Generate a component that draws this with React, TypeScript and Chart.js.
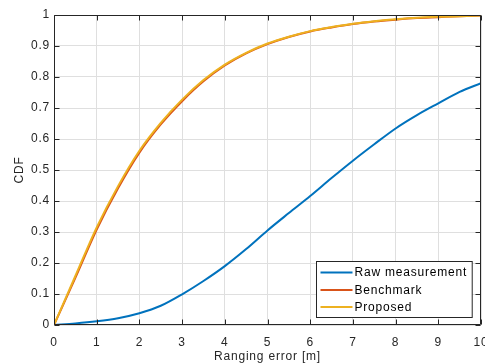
import { useEffect, useRef } from "react";
import { Chart, registerables } from "chart.js";

Chart.register(...registerables);

// ---- data ----
const rangingErrors = [0, 0.5, 1, 1.5, 2, 2.5, 3, 3.5, 4, 4.5, 5, 5.5, 6, 6.5, 7, 7.5, 8, 8.5, 9, 9.5, 10];
const rawCdf = [0, 0.005, 0.012, 0.022, 0.038, 0.062, 0.099, 0.142, 0.19, 0.245, 0.305, 0.361, 0.416, 0.474, 0.53, 0.583, 0.634, 0.677, 0.715, 0.752, 0.78];
const benchmarkCdf = [0, 0.152, 0.308, 0.441, 0.556, 0.647, 0.722, 0.786, 0.837, 0.876, 0.906, 0.929, 0.947, 0.96, 0.971, 0.979, 0.985, 0.99, 0.993, 0.996, 0.998];
const proposedCdf = [0, 0.158, 0.315, 0.448, 0.562, 0.652, 0.727, 0.79, 0.84, 0.878, 0.908, 0.93, 0.948, 0.961, 0.972, 0.98, 0.986, 0.991, 0.994, 0.996, 0.998];
const seriesNames = ["Raw measurement", "Benchmark", "Proposed"];
const seriesColors = ["#0072BD", "#D95319", "#EDB120"];
const xTickValues = [0, 1, 2, 3, 4, 5, 6, 7, 8, 9, 10];
const yTickValues = [0, 0.1, 0.2, 0.3, 0.4, 0.5, 0.6, 0.7, 0.8, 0.9, 1];
const xTitle = "Ranging error [m]";
const yTitle = "CDF";

const FONT = "'Liberation Sans', Arial, sans-serif";
const AXIS = "#262626";
const SPACING = "0.8px";

const framePlugin = {
  id: "matlabFrame",
  beforeDraw(chart: any) {
    (chart.ctx as any).letterSpacing = SPACING;
  },
  afterDatasetsDraw(chart: any) {
    const { ctx, chartArea: a, scales } = chart;
    const xs = scales.x;
    const ys = scales.y;
    ctx.save();
    ctx.strokeStyle = AXIS;
    ctx.lineWidth = 1;
    const L = Math.round(a.left) + 0.5;
    const R = Math.round(a.right) - 0.5;
    const T = Math.round(a.top) + 0.5;
    const B = Math.round(a.bottom) - 0.5;
    ctx.beginPath();
    ctx.rect(L, T, R - L, B - T);
    const tl = 5;
    xTickValues.forEach((v) => {
      const p = Math.round(xs.getPixelForValue(v)) + 0.5;
      ctx.moveTo(p, B);
      ctx.lineTo(p, B - tl);
      ctx.moveTo(p, T);
      ctx.lineTo(p, T + tl);
    });
    yTickValues.forEach((v) => {
      const p = Math.round(ys.getPixelForValue(v)) + 0.5;
      ctx.moveTo(L, p);
      ctx.lineTo(L + tl, p);
      ctx.moveTo(R, p);
      ctx.lineTo(R - tl, p);
    });
    ctx.stroke();
    ctx.restore();
  },
  afterDraw(chart: any) {
    const { ctx, chartArea: a } = chart;
    ctx.save();
    (ctx as any).letterSpacing = SPACING;
    ctx.font = `12px ${FONT}`;
    const textW = Math.max(...seriesNames.map((n) => ctx.measureText(n).width));
    const padL = 4, sample = 32, gap = 2, padR = 5;
    const w = padL + sample + gap + textW + padR;
    const h = 56;
    const right = a.right - 9;
    const bottom = a.bottom - 8;
    const left = Math.round(right - w) + 0.5;
    const top = Math.round(bottom - h) + 0.5;
    ctx.fillStyle = "#ffffff";
    ctx.fillRect(left, top, w, h);
    ctx.strokeStyle = AXIS;
    ctx.lineWidth = 1;
    ctx.strokeRect(left, top, w, h);
    const rowY = [11, 28.5, 45.5];
    seriesNames.forEach((name, i) => {
      const y = top + rowY[i];
      ctx.strokeStyle = seriesColors[i];
      ctx.lineWidth = 2;
      ctx.beginPath();
      ctx.moveTo(left + padL, y);
      ctx.lineTo(left + padL + sample, y);
      ctx.stroke();
      ctx.fillStyle = "#000000";
      ctx.textBaseline = "middle";
      ctx.textAlign = "left";
      ctx.fillText(name, left + padL + sample + gap, y + 0.5);
    });
    ctx.restore();
  },
};

export default function App() {
  const ref = useRef<HTMLCanvasElement | null>(null);

  useEffect(() => {
    const canvas = ref.current;
    if (!canvas) return;
    const series = [rawCdf, benchmarkCdf, proposedCdf];
    const chart = new Chart(canvas, {
      type: "line",
      data: {
        datasets: series.map((vals, i) => ({
          label: seriesNames[i],
          data: rangingErrors.map((x, j) => ({ x, y: vals[j] })),
          borderColor: seriesColors[i],
          backgroundColor: seriesColors[i],
          borderWidth: 2,
          pointRadius: 0,
          fill: false,
          cubicInterpolationMode: "monotone" as const,
          order: 2 - i,
        })),
      },
      options: {
        responsive: false,
        animation: false,
        layout: { padding: { left: 0, top: 15, right: 39, bottom: 0 } },
        plugins: { legend: { display: false }, tooltip: { enabled: false } },
        scales: {
          x: {
            type: "linear",
            min: 0,
            max: 10,
            afterBuildTicks: (s: any) => {
              s.ticks = xTickValues.map((v) => ({ value: v }));
            },
            afterFit: (s: any) => {
              s.height = 39;
            },
            grid: { color: "#dfdfdf", drawTicks: false, lineWidth: 1 },
            border: { display: false },
            ticks: {
              color: AXIS,
              font: { family: FONT, size: 12 },
              padding: 10,
              maxRotation: 0,
              callback: (v: any) => String(v),
            },
            title: {
              display: true,
              text: xTitle,
              color: AXIS,
              font: { family: FONT, size: 12 },
              padding: { top: 0, bottom: 0 },
            },
          },
          y: {
            type: "linear",
            min: 0,
            max: 1,
            afterBuildTicks: (s: any) => {
              s.ticks = yTickValues.map((v) => ({ value: v }));
            },
            afterFit: (s: any) => {
              s.width = 54;
            },
            grid: { color: "#dfdfdf", drawTicks: false, lineWidth: 1 },
            border: { display: false },
            ticks: {
              color: AXIS,
              font: { family: FONT, size: 12 },
              padding: 4,
              callback: (v: any) => String(Math.round(Number(v) * 10) / 10),
            },
            title: {
              display: true,
              text: yTitle,
              color: AXIS,
              font: { family: FONT, size: 12 },
              padding: { top: 12, bottom: 0 },
            },
          },
        },
      },
      plugins: [framePlugin],
    });
    return () => chart.destroy();
  }, []);

  return (
    <div
      style={{
        position: "absolute",
        left: 0,
        top: 0,
        width: 485,
        height: 364,
        overflow: "hidden",
        background: "#ffffff",
      }}
    >
      <canvas ref={ref} width={520} height={364} style={{ display: "block" }} />
    </div>
  );
}
